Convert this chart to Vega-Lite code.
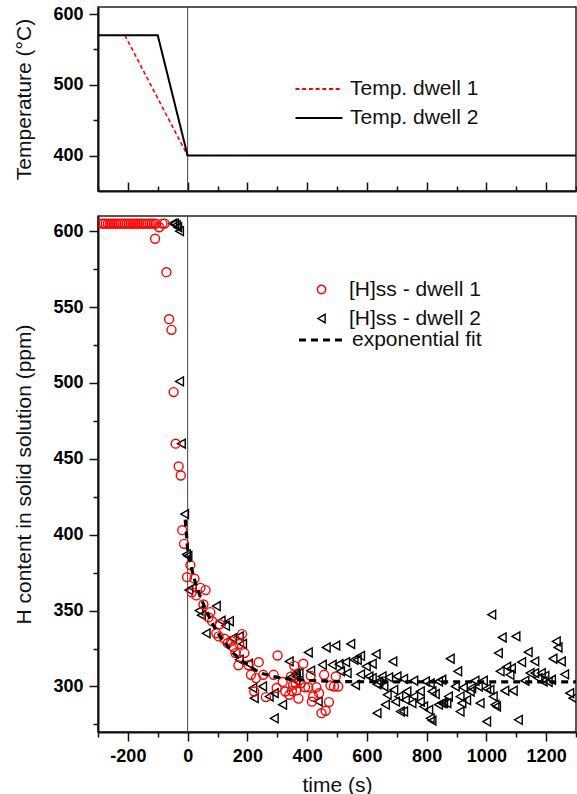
{
  "$schema": "https://vega.github.io/schema/vega-lite/v6.json",
  "padding": {"left": 13, "top": 4, "right": 0, "bottom": 0},
  "autosize": {"type": "pad"},
  "spacing": 25,
  "bounds": "flush",
  "resolve": {"scale": {"color": "independent", "strokeDash": "independent", "shape": "independent"}, "legend": {"color": "independent", "strokeDash": "independent", "shape": "independent"}},
  "config": {
    "font": "Liberation Sans",
    "view": {"stroke": "#222", "strokeWidth": 1.5},
    "axis": {
      "labelFont": "Liberation Sans", "labelFontSize": 18, "labelFontWeight": "bold", "labelColor": "#000",
      "titleFont": "Liberation Sans", "titleFontSize": 21, "titleFontWeight": "normal", "titleColor": "#111",
      "domainColor": "#111", "domainWidth": 2, "tickColor": "#111", "tickWidth": 1.5, "grid": false
    },
    "legend": {"labelFont": "Liberation Sans", "labelFontSize": 21, "labelColor": "#111", "padding": 0, "titlePadding": 0}
  },
  "datasets": {
    "temp": [
      {"t": -210, "temp": 570, "series": "Temp. dwell 1"},
      {"t": 0, "temp": 400, "series": "Temp. dwell 1"},
      {"t": -300, "temp": 570, "series": "Temp. dwell 2"},
      {"t": -100, "temp": 570, "series": "Temp. dwell 2"},
      {"t": 0, "temp": 400, "series": "Temp. dwell 2"},
      {"t": 1300, "temp": 400, "series": "Temp. dwell 2"}
    ],
    "fit": [
      {"t": -8, "v": 410, "name": "exponential fit"},
      {"t": -3, "v": 398, "name": "exponential fit"},
      {"t": 0, "v": 390, "name": "exponential fit"},
      {"t": 6, "v": 384, "name": "exponential fit"},
      {"t": 12, "v": 379, "name": "exponential fit"},
      {"t": 20, "v": 372.5, "name": "exponential fit"},
      {"t": 30, "v": 366, "name": "exponential fit"},
      {"t": 40, "v": 360.5, "name": "exponential fit"},
      {"t": 50, "v": 355.5, "name": "exponential fit"},
      {"t": 60, "v": 351, "name": "exponential fit"},
      {"t": 80, "v": 342.5, "name": "exponential fit"},
      {"t": 100, "v": 335.5, "name": "exponential fit"},
      {"t": 125, "v": 328.5, "name": "exponential fit"},
      {"t": 150, "v": 322.5, "name": "exponential fit"},
      {"t": 175, "v": 318, "name": "exponential fit"},
      {"t": 200, "v": 314.5, "name": "exponential fit"},
      {"t": 225, "v": 311, "name": "exponential fit"},
      {"t": 250, "v": 308.5, "name": "exponential fit"},
      {"t": 300, "v": 306, "name": "exponential fit"},
      {"t": 350, "v": 304.7, "name": "exponential fit"},
      {"t": 400, "v": 304, "name": "exponential fit"},
      {"t": 500, "v": 303.3, "name": "exponential fit"},
      {"t": 600, "v": 303.1, "name": "exponential fit"},
      {"t": 800, "v": 303, "name": "exponential fit"},
      {"t": 1300, "v": 303, "name": "exponential fit"}
    ],
    "h": [
      {"t": -50, "v": 605, "series": "[H]ss - dwell 2"},
      {"t": -44, "v": 605, "series": "[H]ss - dwell 2"},
      {"t": -38, "v": 604, "series": "[H]ss - dwell 2"},
      {"t": -33, "v": 602.6, "series": "[H]ss - dwell 2"},
      {"t": -27, "v": 600, "series": "[H]ss - dwell 2"},
      {"t": -27, "v": 501, "series": "[H]ss - dwell 2"},
      {"t": -21, "v": 460, "series": "[H]ss - dwell 2"},
      {"t": -10, "v": 413.6, "series": "[H]ss - dwell 2"},
      {"t": -4, "v": 387, "series": "[H]ss - dwell 2"},
      {"t": 1, "v": 386, "series": "[H]ss - dwell 2"},
      {"t": 4, "v": 363.5, "series": "[H]ss - dwell 2"},
      {"t": 16, "v": 365, "series": "[H]ss - dwell 2"},
      {"t": 38, "v": 350, "series": "[H]ss - dwell 2"},
      {"t": 46, "v": 347, "series": "[H]ss - dwell 2"},
      {"t": 62, "v": 335, "series": "[H]ss - dwell 2"},
      {"t": 96, "v": 353, "series": "[H]ss - dwell 2"},
      {"t": 112, "v": 343.3, "series": "[H]ss - dwell 2"},
      {"t": 127, "v": 340, "series": "[H]ss - dwell 2"},
      {"t": 140, "v": 343, "series": "[H]ss - dwell 2"},
      {"t": 151, "v": 331.8, "series": "[H]ss - dwell 2"},
      {"t": 173, "v": 333, "series": "[H]ss - dwell 2"},
      {"t": 184, "v": 328, "series": "[H]ss - dwell 2"},
      {"t": 173, "v": 317.6, "series": "[H]ss - dwell 2"},
      {"t": 204, "v": 315, "series": "[H]ss - dwell 2"},
      {"t": 218, "v": 299, "series": "[H]ss - dwell 2"},
      {"t": 223, "v": 292.3, "series": "[H]ss - dwell 2"},
      {"t": 251, "v": 300, "series": "[H]ss - dwell 2"},
      {"t": 273, "v": 293.4, "series": "[H]ss - dwell 2"},
      {"t": 290, "v": 295.6, "series": "[H]ss - dwell 2"},
      {"t": 290, "v": 279, "series": "[H]ss - dwell 2"},
      {"t": 318, "v": 288, "series": "[H]ss - dwell 2"},
      {"t": 340, "v": 316.5, "series": "[H]ss - dwell 2"},
      {"t": 346, "v": 306, "series": "[H]ss - dwell 2"},
      {"t": 362, "v": 308.8, "series": "[H]ss - dwell 2"},
      {"t": 364, "v": 306.6, "series": "[H]ss - dwell 2"},
      {"t": 362, "v": 303.8, "series": "[H]ss - dwell 2"},
      {"t": 373, "v": 308.8, "series": "[H]ss - dwell 2"},
      {"t": 404, "v": 322.4, "series": "[H]ss - dwell 2"},
      {"t": 412, "v": 310.4, "series": "[H]ss - dwell 2"},
      {"t": 437, "v": 290.1, "series": "[H]ss - dwell 2"},
      {"t": 451, "v": 314.3, "series": "[H]ss - dwell 2"},
      {"t": 464, "v": 325.7, "series": "[H]ss - dwell 2"},
      {"t": 484, "v": 314.3, "series": "[H]ss - dwell 2"},
      {"t": 496, "v": 327, "series": "[H]ss - dwell 2"},
      {"t": 507, "v": 314.7, "series": "[H]ss - dwell 2"},
      {"t": 512, "v": 310, "series": "[H]ss - dwell 2"},
      {"t": 529, "v": 316, "series": "[H]ss - dwell 2"},
      {"t": 534, "v": 308.8, "series": "[H]ss - dwell 2"},
      {"t": 546, "v": 328, "series": "[H]ss - dwell 2"},
      {"t": 557, "v": 317.6, "series": "[H]ss - dwell 2"},
      {"t": 562, "v": 301, "series": "[H]ss - dwell 2"},
      {"t": 568, "v": 317.6, "series": "[H]ss - dwell 2"},
      {"t": 579, "v": 320.2, "series": "[H]ss - dwell 2"},
      {"t": 579, "v": 308, "series": "[H]ss - dwell 2"},
      {"t": 598, "v": 313.2, "series": "[H]ss - dwell 2"},
      {"t": 607, "v": 306.6, "series": "[H]ss - dwell 2"},
      {"t": 618, "v": 305.5, "series": "[H]ss - dwell 2"},
      {"t": 618, "v": 315, "series": "[H]ss - dwell 2"},
      {"t": 631, "v": 321.3, "series": "[H]ss - dwell 2"},
      {"t": 634, "v": 301.5, "series": "[H]ss - dwell 2"},
      {"t": 634, "v": 282.4, "series": "[H]ss - dwell 2"},
      {"t": 640, "v": 303.3, "series": "[H]ss - dwell 2"},
      {"t": 651, "v": 306.6, "series": "[H]ss - dwell 2"},
      {"t": 657, "v": 300, "series": "[H]ss - dwell 2"},
      {"t": 662, "v": 288, "series": "[H]ss - dwell 2"},
      {"t": 668, "v": 294.5, "series": "[H]ss - dwell 2"},
      {"t": 673, "v": 306, "series": "[H]ss - dwell 2"},
      {"t": 687, "v": 316.5, "series": "[H]ss - dwell 2"},
      {"t": 690, "v": 297.8, "series": "[H]ss - dwell 2"},
      {"t": 696, "v": 290, "series": "[H]ss - dwell 2"},
      {"t": 701, "v": 306.6, "series": "[H]ss - dwell 2"},
      {"t": 707, "v": 293.4, "series": "[H]ss - dwell 2"},
      {"t": 712, "v": 283.5, "series": "[H]ss - dwell 2"},
      {"t": 723, "v": 305, "series": "[H]ss - dwell 2"},
      {"t": 723, "v": 283.5, "series": "[H]ss - dwell 2"},
      {"t": 729, "v": 291.2, "series": "[H]ss - dwell 2"},
      {"t": 734, "v": 296.7, "series": "[H]ss - dwell 2"},
      {"t": 751, "v": 289, "series": "[H]ss - dwell 2"},
      {"t": 757, "v": 303.8, "series": "[H]ss - dwell 2"},
      {"t": 757, "v": 293.4, "series": "[H]ss - dwell 2"},
      {"t": 779, "v": 296.7, "series": "[H]ss - dwell 2"},
      {"t": 779, "v": 290, "series": "[H]ss - dwell 2"},
      {"t": 790, "v": 286.8, "series": "[H]ss - dwell 2"},
      {"t": 796, "v": 303.3, "series": "[H]ss - dwell 2"},
      {"t": 807, "v": 284.6, "series": "[H]ss - dwell 2"},
      {"t": 812, "v": 302, "series": "[H]ss - dwell 2"},
      {"t": 812, "v": 279, "series": "[H]ss - dwell 2"},
      {"t": 818, "v": 277.5, "series": "[H]ss - dwell 2"},
      {"t": 818, "v": 296.7, "series": "[H]ss - dwell 2"},
      {"t": 829, "v": 295, "series": "[H]ss - dwell 2"},
      {"t": 840, "v": 303.3, "series": "[H]ss - dwell 2"},
      {"t": 840, "v": 288, "series": "[H]ss - dwell 2"},
      {"t": 851, "v": 304.4, "series": "[H]ss - dwell 2"},
      {"t": 851, "v": 289, "series": "[H]ss - dwell 2"},
      {"t": 857, "v": 289, "series": "[H]ss - dwell 2"},
      {"t": 868, "v": 289, "series": "[H]ss - dwell 2"},
      {"t": 873, "v": 293.4, "series": "[H]ss - dwell 2"},
      {"t": 879, "v": 318.3, "series": "[H]ss - dwell 2"},
      {"t": 896, "v": 300, "series": "[H]ss - dwell 2"},
      {"t": 904, "v": 310, "series": "[H]ss - dwell 2"},
      {"t": 912, "v": 293.4, "series": "[H]ss - dwell 2"},
      {"t": 912, "v": 283.5, "series": "[H]ss - dwell 2"},
      {"t": 918, "v": 289, "series": "[H]ss - dwell 2"},
      {"t": 923, "v": 299.3, "series": "[H]ss - dwell 2"},
      {"t": 934, "v": 291, "series": "[H]ss - dwell 2"},
      {"t": 946, "v": 296.7, "series": "[H]ss - dwell 2"},
      {"t": 951, "v": 299, "series": "[H]ss - dwell 2"},
      {"t": 962, "v": 303.8, "series": "[H]ss - dwell 2"},
      {"t": 973, "v": 300, "series": "[H]ss - dwell 2"},
      {"t": 979, "v": 289, "series": "[H]ss - dwell 2"},
      {"t": 990, "v": 303.8, "series": "[H]ss - dwell 2"},
      {"t": 1001, "v": 298.5, "series": "[H]ss - dwell 2"},
      {"t": 1001, "v": 276.9, "series": "[H]ss - dwell 2"},
      {"t": 1012, "v": 297.8, "series": "[H]ss - dwell 2"},
      {"t": 1018, "v": 347.3, "series": "[H]ss - dwell 2"},
      {"t": 1023, "v": 293.4, "series": "[H]ss - dwell 2"},
      {"t": 1029, "v": 288, "series": "[H]ss - dwell 2"},
      {"t": 1034, "v": 286.8, "series": "[H]ss - dwell 2"},
      {"t": 1040, "v": 322, "series": "[H]ss - dwell 2"},
      {"t": 1046, "v": 310, "series": "[H]ss - dwell 2"},
      {"t": 1053, "v": 332.3, "series": "[H]ss - dwell 2"},
      {"t": 1062, "v": 297.2, "series": "[H]ss - dwell 2"},
      {"t": 1068, "v": 313, "series": "[H]ss - dwell 2"},
      {"t": 1079, "v": 307.7, "series": "[H]ss - dwell 2"},
      {"t": 1084, "v": 312, "series": "[H]ss - dwell 2"},
      {"t": 1090, "v": 297.2, "series": "[H]ss - dwell 2"},
      {"t": 1099, "v": 333, "series": "[H]ss - dwell 2"},
      {"t": 1107, "v": 278, "series": "[H]ss - dwell 2"},
      {"t": 1118, "v": 316, "series": "[H]ss - dwell 2"},
      {"t": 1129, "v": 303.8, "series": "[H]ss - dwell 2"},
      {"t": 1140, "v": 322.6, "series": "[H]ss - dwell 2"},
      {"t": 1146, "v": 308.8, "series": "[H]ss - dwell 2"},
      {"t": 1162, "v": 316.5, "series": "[H]ss - dwell 2"},
      {"t": 1162, "v": 308.8, "series": "[H]ss - dwell 2"},
      {"t": 1173, "v": 305.5, "series": "[H]ss - dwell 2"},
      {"t": 1184, "v": 308.8, "series": "[H]ss - dwell 2"},
      {"t": 1190, "v": 303.3, "series": "[H]ss - dwell 2"},
      {"t": 1196, "v": 307, "series": "[H]ss - dwell 2"},
      {"t": 1207, "v": 303, "series": "[H]ss - dwell 2"},
      {"t": 1218, "v": 304.4, "series": "[H]ss - dwell 2"},
      {"t": 1223, "v": 318.3, "series": "[H]ss - dwell 2"},
      {"t": 1234, "v": 329.7, "series": "[H]ss - dwell 2"},
      {"t": 1240, "v": 325.7, "series": "[H]ss - dwell 2"},
      {"t": 1251, "v": 316.5, "series": "[H]ss - dwell 2"},
      {"t": 1262, "v": 308, "series": "[H]ss - dwell 2"},
      {"t": 1279, "v": 295.6, "series": "[H]ss - dwell 2"},
      {"t": 1290, "v": 292.3, "series": "[H]ss - dwell 2"},
      {"t": -288, "v": 605, "series": "[H]ss - dwell 1"},
      {"t": -281, "v": 605, "series": "[H]ss - dwell 1"},
      {"t": -274, "v": 605, "series": "[H]ss - dwell 1"},
      {"t": -267, "v": 605, "series": "[H]ss - dwell 1"},
      {"t": -260, "v": 605, "series": "[H]ss - dwell 1"},
      {"t": -253, "v": 605, "series": "[H]ss - dwell 1"},
      {"t": -246, "v": 605, "series": "[H]ss - dwell 1"},
      {"t": -239, "v": 605, "series": "[H]ss - dwell 1"},
      {"t": -232, "v": 605, "series": "[H]ss - dwell 1"},
      {"t": -225, "v": 605, "series": "[H]ss - dwell 1"},
      {"t": -218, "v": 605, "series": "[H]ss - dwell 1"},
      {"t": -211, "v": 605, "series": "[H]ss - dwell 1"},
      {"t": -204, "v": 605, "series": "[H]ss - dwell 1"},
      {"t": -197, "v": 605, "series": "[H]ss - dwell 1"},
      {"t": -190, "v": 605, "series": "[H]ss - dwell 1"},
      {"t": -183, "v": 605, "series": "[H]ss - dwell 1"},
      {"t": -176, "v": 605, "series": "[H]ss - dwell 1"},
      {"t": -169, "v": 605, "series": "[H]ss - dwell 1"},
      {"t": -162, "v": 605, "series": "[H]ss - dwell 1"},
      {"t": -155, "v": 605, "series": "[H]ss - dwell 1"},
      {"t": -148, "v": 605, "series": "[H]ss - dwell 1"},
      {"t": -141, "v": 605, "series": "[H]ss - dwell 1"},
      {"t": -134, "v": 605, "series": "[H]ss - dwell 1"},
      {"t": -127, "v": 605, "series": "[H]ss - dwell 1"},
      {"t": -120, "v": 605, "series": "[H]ss - dwell 1"},
      {"t": -113, "v": 605, "series": "[H]ss - dwell 1"},
      {"t": -106, "v": 605, "series": "[H]ss - dwell 1"},
      {"t": -109, "v": 595, "series": "[H]ss - dwell 1"},
      {"t": -95, "v": 602.6, "series": "[H]ss - dwell 1"},
      {"t": -84, "v": 605, "series": "[H]ss - dwell 1"},
      {"t": -77, "v": 605, "series": "[H]ss - dwell 1"},
      {"t": -71, "v": 573, "series": "[H]ss - dwell 1"},
      {"t": -62, "v": 542, "series": "[H]ss - dwell 1"},
      {"t": -54, "v": 535, "series": "[H]ss - dwell 1"},
      {"t": -47, "v": 494, "series": "[H]ss - dwell 1"},
      {"t": -40, "v": 460, "series": "[H]ss - dwell 1"},
      {"t": -30, "v": 445, "series": "[H]ss - dwell 1"},
      {"t": -23, "v": 439, "series": "[H]ss - dwell 1"},
      {"t": -18, "v": 403, "series": "[H]ss - dwell 1"},
      {"t": -12, "v": 394, "series": "[H]ss - dwell 1"},
      {"t": -2, "v": 372, "series": "[H]ss - dwell 1"},
      {"t": 9, "v": 380, "series": "[H]ss - dwell 1"},
      {"t": 14, "v": 362, "series": "[H]ss - dwell 1"},
      {"t": 23, "v": 371, "series": "[H]ss - dwell 1"},
      {"t": 29, "v": 360, "series": "[H]ss - dwell 1"},
      {"t": 43, "v": 365, "series": "[H]ss - dwell 1"},
      {"t": 60, "v": 363.5, "series": "[H]ss - dwell 1"},
      {"t": 53, "v": 354, "series": "[H]ss - dwell 1"},
      {"t": 76, "v": 349, "series": "[H]ss - dwell 1"},
      {"t": 70, "v": 345.5, "series": "[H]ss - dwell 1"},
      {"t": 82, "v": 343, "series": "[H]ss - dwell 1"},
      {"t": 107, "v": 341, "series": "[H]ss - dwell 1"},
      {"t": 96, "v": 335, "series": "[H]ss - dwell 1"},
      {"t": 104, "v": 333, "series": "[H]ss - dwell 1"},
      {"t": 123, "v": 331.5, "series": "[H]ss - dwell 1"},
      {"t": 134, "v": 328.5, "series": "[H]ss - dwell 1"},
      {"t": 146, "v": 330, "series": "[H]ss - dwell 1"},
      {"t": 153, "v": 326, "series": "[H]ss - dwell 1"},
      {"t": 173, "v": 328, "series": "[H]ss - dwell 1"},
      {"t": 182, "v": 334.5, "series": "[H]ss - dwell 1"},
      {"t": 160, "v": 322, "series": "[H]ss - dwell 1"},
      {"t": 190, "v": 322, "series": "[H]ss - dwell 1"},
      {"t": 170, "v": 314, "series": "[H]ss - dwell 1"},
      {"t": 204, "v": 314, "series": "[H]ss - dwell 1"},
      {"t": 212, "v": 307.7, "series": "[H]ss - dwell 1"},
      {"t": 238, "v": 316, "series": "[H]ss - dwell 1"},
      {"t": 229, "v": 305.5, "series": "[H]ss - dwell 1"},
      {"t": 253, "v": 307.7, "series": "[H]ss - dwell 1"},
      {"t": 223, "v": 296.7, "series": "[H]ss - dwell 1"},
      {"t": 262, "v": 293, "series": "[H]ss - dwell 1"},
      {"t": 288, "v": 307.7, "series": "[H]ss - dwell 1"},
      {"t": 301, "v": 320.4, "series": "[H]ss - dwell 1"},
      {"t": 298, "v": 299, "series": "[H]ss - dwell 1"},
      {"t": 318, "v": 303, "series": "[H]ss - dwell 1"},
      {"t": 327, "v": 296.7, "series": "[H]ss - dwell 1"},
      {"t": 340, "v": 294.5, "series": "[H]ss - dwell 1"},
      {"t": 357, "v": 313.6, "series": "[H]ss - dwell 1"},
      {"t": 353, "v": 301, "series": "[H]ss - dwell 1"},
      {"t": 364, "v": 297.4, "series": "[H]ss - dwell 1"},
      {"t": 387, "v": 315, "series": "[H]ss - dwell 1"},
      {"t": 346, "v": 306.6, "series": "[H]ss - dwell 1"},
      {"t": 362, "v": 302, "series": "[H]ss - dwell 1"},
      {"t": 349, "v": 297, "series": "[H]ss - dwell 1"},
      {"t": 371, "v": 292, "series": "[H]ss - dwell 1"},
      {"t": 379, "v": 302, "series": "[H]ss - dwell 1"},
      {"t": 393, "v": 299.5, "series": "[H]ss - dwell 1"},
      {"t": 404, "v": 299.5, "series": "[H]ss - dwell 1"},
      {"t": 412, "v": 307, "series": "[H]ss - dwell 1"},
      {"t": 431, "v": 299.5, "series": "[H]ss - dwell 1"},
      {"t": 440, "v": 295.6, "series": "[H]ss - dwell 1"},
      {"t": 420, "v": 293.4, "series": "[H]ss - dwell 1"},
      {"t": 416, "v": 290, "series": "[H]ss - dwell 1"},
      {"t": 457, "v": 307.7, "series": "[H]ss - dwell 1"},
      {"t": 473, "v": 289.7, "series": "[H]ss - dwell 1"},
      {"t": 462, "v": 284, "series": "[H]ss - dwell 1"},
      {"t": 448, "v": 282.4, "series": "[H]ss - dwell 1"},
      {"t": 478, "v": 300.7, "series": "[H]ss - dwell 1"},
      {"t": 496, "v": 306.6, "series": "[H]ss - dwell 1"},
      {"t": 490, "v": 300, "series": "[H]ss - dwell 1"},
      {"t": 504, "v": 300, "series": "[H]ss - dwell 1"}
    ]
  },
  "vconcat": [
    {
      "width": 478,
      "height": 184,
      "layer": [
        {
          "data": {"values": [{}]},
          "mark": {"type": "rule", "color": "#444", "strokeWidth": 1},
          "encoding": {
            "x": {"datum": 0, "type": "quantitative",
              "scale": {"domain": [-300, 1300], "nice": false, "zero": false},
              "axis": {"orient": "bottom", "values": [-200, 0, 200, 400, 600, 800, 1000, 1200], "labels": false, "tickSize": -9, "title": null}}
          }
        },
        {
          "data": {"name": "temp"},
          "transform": [{"filter": "datum.series == 'Temp. dwell 1'"}],
          "mark": {"type": "line", "strokeWidth": 1.6},
          "encoding": {
            "x": {"field": "t", "type": "quantitative",
              "axis": {"orient": "bottom", "values": [-300, -100, 100, 300, 500, 700, 900, 1100, 1300], "labels": false, "tickSize": -5, "domain": false, "title": null}},
            "y": {"field": "temp", "type": "quantitative",
              "scale": {"domain": [350, 610], "nice": false, "zero": false},
              "axis": {"orient": "left", "values": [400, 500, 600], "tickSize": 9, "labelPadding": 6, "title": "Temperature (°C)", "titlePadding": 18,
                "encode": {"labels": {"update": {"fontWeight": {"value": "bold"}}}}}},
            "color": {"field": "series", "type": "nominal",
              "scale": {"domain": ["Temp. dwell 1", "Temp. dwell 2"], "range": ["#ff0000", "#000000"]},
              "legend": {"orient": "none", "legendX": 210, "legendY": 71, "title": null, "symbolType": "M-2.35,0H2.35", "symbolSize": 400, "symbolStrokeWidth": 1.8, "labelOffset": 20, "rowPadding": 8}},
            "strokeDash": {"field": "series", "type": "nominal",
              "scale": {"domain": ["Temp. dwell 1", "Temp. dwell 2"], "range": [[4, 2.7], [1, 0]]},
              "legend": {"orient": "none", "legendX": 210, "legendY": 71, "title": null, "symbolType": "M-2.35,0H2.35", "symbolSize": 400, "symbolStrokeWidth": 1.8, "labelOffset": 20, "rowPadding": 8}}
          }
        },
        {
          "data": {"name": "temp"},
          "transform": [{"filter": "datum.series == 'Temp. dwell 2'"}],
          "mark": {"type": "line", "strokeWidth": 2},
          "encoding": {
            "x": {"field": "t", "type": "quantitative", "axis": null},
            "y": {"field": "temp", "type": "quantitative",
              "axis": {"orient": "left", "values": [450, 550], "labels": false, "tickSize": 5, "domain": false, "title": null}},
            "color": {"field": "series", "type": "nominal"},
            "strokeDash": {"field": "series", "type": "nominal"}
          }
        }
      ],
      "resolve": {"axis": {"x": "independent", "y": "independent"}}
    },
    {
      "width": 478,
      "height": 516,
      "layer": [
        {
          "data": {"values": [{}]},
          "mark": {"type": "rule", "color": "#444", "strokeWidth": 1},
          "encoding": {
            "x": {"datum": 0, "type": "quantitative",
              "scale": {"domain": [-300, 1300], "nice": false, "zero": false},
              "axis": {"orient": "bottom", "values": [-200, 0, 200, 400, 600, 800, 1000, 1200], "labelExpr": "'' + datum.value", "tickSize": 9, "labelPadding": 6, "title": "time (s)", "titlePadding": 9,
                "encode": {"labels": {"update": {"fontWeight": {"value": "bold"}}}}}}
          }
        },
        {
          "data": {"name": "h"},
          "mark": {"type": "point", "filled": false, "size": 80, "strokeWidth": 1.4, "clip": true, "opacity": 1},
          "encoding": {
            "x": {"field": "t", "type": "quantitative",
              "axis": {"orient": "bottom", "values": [-300, -100, 100, 300, 500, 700, 900, 1100, 1300], "labels": false, "tickSize": 5, "domain": false, "title": null}},
            "y": {"field": "v", "type": "quantitative",
              "scale": {"domain": [270, 610], "nice": false, "zero": false},
              "axis": {"orient": "left", "values": [300, 350, 400, 450, 500, 550, 600], "tickSize": 9, "labelPadding": 6, "title": "H content in solid solution (ppm)", "titlePadding": 18,
                "encode": {"labels": {"update": {"fontWeight": {"value": "bold"}}}}}},
            "shape": {"field": "series", "type": "nominal",
              "scale": {"domain": ["[H]ss - dwell 1", "[H]ss - dwell 2"], "range": ["circle", "triangle-left"]},
              "legend": {"orient": "none", "legendX": 213, "legendY": 63, "title": null, "symbolSize": 70, "symbolStrokeWidth": 1.4, "labelOffset": 17, "rowPadding": 7}},
            "color": {"field": "series", "type": "nominal",
              "scale": {"domain": ["[H]ss - dwell 1", "[H]ss - dwell 2"], "range": ["#ff0000", "#000000"]},
              "legend": {"orient": "none", "legendX": 213, "legendY": 63, "title": null, "symbolSize": 70, "symbolStrokeWidth": 1.4, "labelOffset": 17, "rowPadding": 7}}
          }
        },
        {
          "data": {"name": "fit"},
          "mark": {"type": "line", "color": "#000000", "strokeWidth": 3.2},
          "encoding": {
            "x": {"field": "t", "type": "quantitative", "axis": null},
            "y": {"field": "v", "type": "quantitative",
              "axis": {"orient": "left", "values": [275, 325, 375, 425, 475, 525, 575], "labels": false, "tickSize": 5, "domain": false, "title": null}},
            "strokeDash": {"field": "name", "type": "nominal",
              "scale": {"domain": ["exponential fit"], "range": [[7, 5]]},
              "legend": {"orient": "none", "legendX": 213, "legendY": 112, "title": null, "symbolType": "M-2.4,0H2.4", "symbolSize": 400, "symbolStrokeWidth": 3.2, "symbolStrokeColor": "#000000", "labelOffset": 17}}
          }
        }
      ],
      "resolve": {"axis": {"x": "independent", "y": "independent"}}
    }
  ]
}
